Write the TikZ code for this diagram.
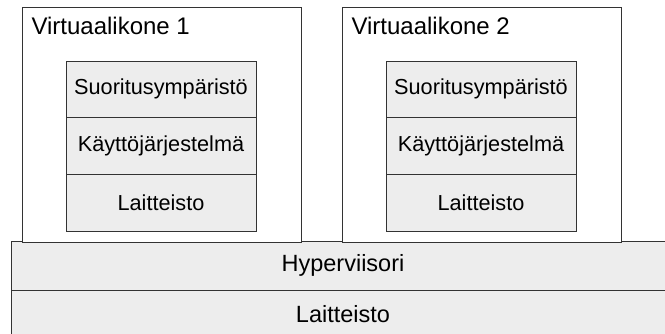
\documentclass[tikz,border=0pt]{standalone}
\usepackage{fontspec}
\setmainfont{Liberation Sans}
\usetikzlibrary{positioning}
\definecolor{viiva}{HTML}{333333}
\definecolor{kerros}{HTML}{EDEDED}

\begin{document}
\begin{tikzpicture}[x=1pt, y=-1pt, line width=1pt,
  every node/.style={inner sep=0pt, outer sep=0pt},
  vmbox/.style={draw=viiva, fill=white, anchor=north west, minimum width=279pt, minimum height=234.5pt},
  vmtitle/.style={anchor=base west, font=\fontsize{24}{28}\selectfont},
  vmlayer/.style={draw=viiva, fill=kerros, minimum width=190pt, minimum height=56.7pt, font=\fontsize{21.7}{26}\selectfont},
  baselayer/.style={draw=viiva, fill=kerros, anchor=north west, minimum width=664pt, minimum height=48.5pt, font=\fontsize{23.5}{28}\selectfont}]
  \useasboundingbox (0,0) rectangle (665,333);
  % Hyperviisori ja laitteisto
  \node[baselayer] (hyp) at (11, 241.5) {Hyperviisori};
  \node[baselayer, below=0pt of hyp] (hw) {Laitteisto};
  % Virtuaalikoneet
  \foreach \n/\x in {1/22, 2/342}{
    \node[vmbox] (vm\n) at (\x, 7.5) {};
    \node[vmtitle] (vm\n-title) at ([xshift=9.5pt, yshift=-26.8pt]vm\n.north west) {Virtuaalikone \n};
    % Kerrokset
    \node[vmlayer, anchor=north west] (vm\n-rt) at ([xshift=44pt, yshift=-53.5pt]vm\n.north west) {Suoritusympäristö};
    \node[vmlayer, below=0pt of vm\n-rt] (vm\n-os) {Käyttöjärjestelmä};
    \node[vmlayer, below=0pt of vm\n-os] (vm\n-hw) {Laitteisto};
  }
\end{tikzpicture}
\end{document}
